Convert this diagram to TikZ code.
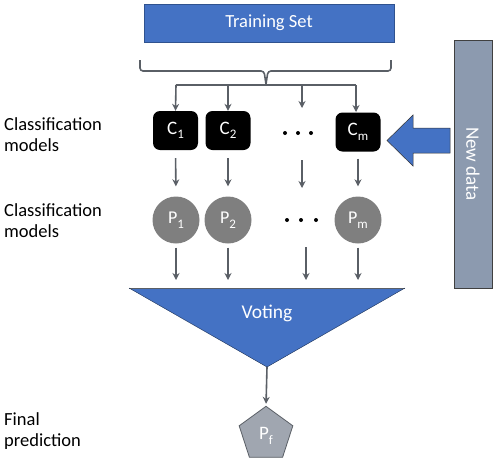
\documentclass[tikz,border=0pt]{standalone}
\usepackage{fontspec}
\setmainfont{Carlito}
\usetikzlibrary{arrows.meta,shapes.geometric}
\definecolor{ublue}{HTML}{4472C4}
\definecolor{dblue}{HTML}{2F528F}
\definecolor{agray}{HTML}{5A5F66}
\definecolor{pgray}{HTML}{7F7F7F}
\definecolor{bargray}{HTML}{8C9AAF}
\definecolor{pentgray}{HTML}{A0A6B0}
\newcommand{\sbs}[1]{\raisebox{-4.5pt}{\fontsize{13}{14}\selectfont #1}}
\begin{document}
\begin{tikzpicture}[x=1pt,y=-1pt,
  lbl/.style={align=left,anchor=west,font=\fontsize{18.5}{21}\selectfont,inner sep=0pt},
  cbox/.style={fill=black,rounded corners=7pt,minimum width=45pt,minimum height=39pt,text=white,font=\fontsize{19}{20}\selectfont,inner sep=0pt},
  pcirc/.style={circle,fill=pgray,minimum size=47pt,text=white,font=\fontsize{18}{19}\selectfont,inner sep=0pt},
  arr/.style={draw=agray,line width=1.6pt,-{Stealth[length=7pt,width=7pt]}},
  ln/.style={draw=agray,line width=1.6pt},
  dot/.style={circle,fill=black,minimum size=4pt,inner sep=0pt}
]
\useasboundingbox (0,0) rectangle (496,464);
% training set
\node[draw=dblue,fill=ublue,minimum width=250pt,minimum height=38pt,text=white,font=\fontsize{18.5}{20}\selectfont,inner sep=0pt] (ts) at (269,23) {Training Set};
% brace
\coordinate (tip) at (266,84);
\draw[ln,rounded corners=3pt] (140,60) -- (140,71) -- (264,71) -- (tip);
\draw[ln,rounded corners=3pt] (391,60) -- (391,71) -- (268,71) -- (tip);
\coordinate (h1) at (176,85);
\coordinate (h4) at (356,85);
\draw[ln] (h1) -- (h4);
% classifiers
\node[cbox] (c1) at (175.5,130.5) {C\sbs{1}};
\node[cbox] (c2) at (228,130.5) {C\sbs{2}};
\node[cbox] (cm) at (358,132) {C\sbs{m}};
\coordinate (c3top) at (302,108);
\node[dot] (d1) at (285,133) {};
\node[dot] (d2) at (298,133) {};
\node[dot] (d3) at (311,133) {};
\draw[arr] (h1) -- (c1.north);
\draw[arr] (228,85) -- (c2.north);
\draw[arr] (302,85) -- (c3top);
\draw[arr] (356,85) -- (356,112);
% predictions
\node[pcirc] (p1) at (176,220) {P\sbs{1}};
\node[pcirc] (p2) at (228,220) {P\sbs{2}};
\node[pcirc] (pm) at (358,220) {P\sbs{m}};
\node[dot] (e1) at (287,220) {};
\node[dot] (e2) at (301,220) {};
\node[dot] (e3) at (316,220) {};
\coordinate (m1) at (302,160);
\coordinate (m2) at (302,188);
\draw[arr,shorten <=8pt,shorten >=10pt] (c1.south) -- (p1.north);
\draw[arr,shorten <=8pt,shorten >=10pt] (c2.south) -- (p2.north);
\draw[arr] (m1) -- (m2);
\draw[arr,shorten <=7pt,shorten >=10pt] (cm.south) -- (pm.north);
% voting
\coordinate (vl) at (129,288);
\coordinate (vr) at (405,288);
\coordinate (va) at (267,367);
\fill[ublue] (vl) -- (vr) -- (va) -- cycle;
\draw[agray,line width=0.8pt] (vl) -- (vr);
\draw[dblue!60!black,line width=0.4pt] (vl) -- (va) -- (vr);
\node[text=white,font=\fontsize{19.5}{21}\selectfont] (vt) at (267,313) {Voting};
\coordinate (q3a) at (306,247);
\coordinate (q3b) at (306,280);
\draw[arr,shorten <=4pt] (p1.south) -- (176,280);
\draw[arr,shorten <=4pt] (p2.south) -- (228,280);
\draw[arr] (q3a) -- (q3b);
\draw[arr,shorten <=4pt] (pm.south) -- (358,280);
% final
\node[regular polygon,regular polygon sides=5,draw=agray,line width=0.8pt,fill=pentgray,minimum size=56.4pt,inner sep=0pt] (pf) at (266,434.5) {};
\node[text=white,font=\fontsize{19}{20}\selectfont] at (266,436) {P\sbs{f}};
\draw[arr,shorten >=2pt] (va) -- (pf.corner 1);
% new data
\node[draw=black!75,line width=0.8pt,fill=bargray,minimum width=38pt,minimum height=248pt,inner sep=0pt] (nd) at (473,164) {};
\node[rotate=-90,text=white,font=\fontsize{19}{20}\selectfont] at (nd.center) {New data};
\draw[draw=black!80,line width=0.5pt,fill=ublue] (450,128) -- (413,128) -- (413,115) -- (387,140.5) -- (413,166) -- (413,153) -- (450,153) -- cycle;
% labels
\node[lbl] (l1) at (4,135) {Classification\\models};
\node[lbl] (l2) at (4,221) {Classification\\models};
\node[lbl] (l3) at (4,431) {Final\\prediction};
\end{tikzpicture}
\end{document}
